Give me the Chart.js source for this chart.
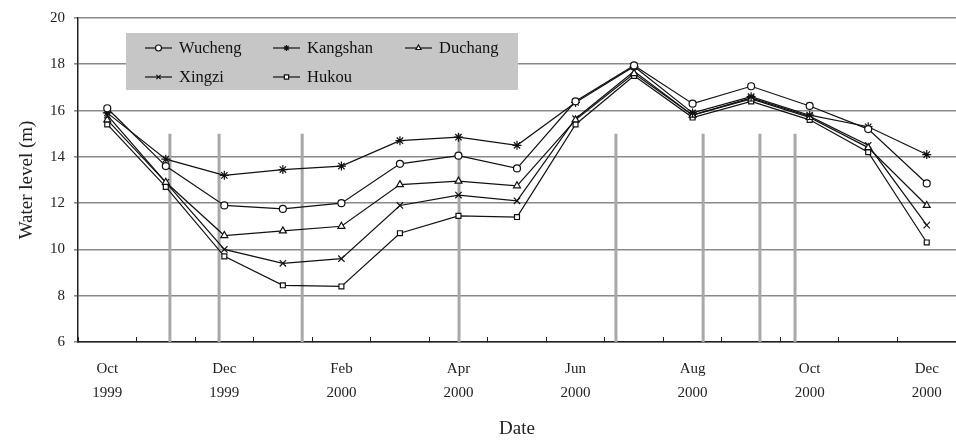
<!DOCTYPE html>
<html><head><meta charset="utf-8">
<script src="https://cdn.jsdelivr.net/npm/chart.js@4"></script>
<style>html,body{margin:0;padding:0;background:#fff}#wrap{width:956px;height:442px;position:relative}</style>
</head><body>
<div id="wrap"><canvas id="c"></canvas></div>
<script>
const months = [['Oct','1999'],['Nov','1999'],['Dec','1999'],['Jan','2000'],['Feb','2000'],['Mar','2000'],['Apr','2000'],['May','2000'],['Jun','2000'],['Jul','2000'],['Aug','2000'],['Sep','2000'],['Oct','2000'],['Nov','2000'],['Dec','2000']];
const wucheng  = [16.1,13.6,11.9,11.75,12.0,13.7,14.05,13.5,16.4,17.95,16.3,17.05,16.2,15.2,12.85];
const kangshan = [15.9,13.9,13.2,13.45,13.6,14.7,14.85,14.5,16.35,17.9,15.9,16.6,15.8,15.3,14.1];
const duchang  = [15.6,12.9,10.6,10.8,11.0,12.8,12.95,12.75,15.6,17.6,15.8,16.5,15.7,14.4,11.9];
const xingzi   = [15.8,12.9,10.0,9.4,9.6,11.9,12.35,12.1,15.65,17.7,15.8,16.55,15.75,14.5,11.05];
const hukou    = [15.4,12.7,9.7,8.45,8.4,10.7,11.45,11.4,15.4,17.5,15.7,16.4,15.6,14.2,10.3];
const yRange = [6, 20];
const yStep = 2;
// vertical reference bars: position in month index, and value span
const barPositions = [1.07,1.91,3.33,6.01,8.69,10.18,11.15,11.75];
const barSpan = [6, 15];

const FONT = "'Liberation Serif','DejaVu Serif',serif";

function series(label, data, style, radius){
  return {label, data, inLegend:true, borderColor:'#111', borderWidth:1.2,
    pointStyle:style, pointRadius:radius, pointBackgroundColor: style==='star'?'#111':'#fff',
    pointBorderColor:'#111', pointBorderWidth:1.2, tension:0, order:0, xAxisID:'x', yAxisID:'y'};
}
const barData = barPositions.flatMap(p => [{x:p,y:barSpan[0]},{x:p,y:barSpan[1]},{x:p,y:null}]);

const legendPlugin = {
  id:'boxLegend',
  afterDraw(chart){
    const ctx = chart.ctx;
    ctx.save();
    ctx.fillStyle = '#c6c6c6';
    ctx.fillRect(126,33,392,57);
    const slots = [[145,48],[273,48],[405,48],[145,77],[273,77]];
    const items = chart.data.datasets.filter(d=>d.inLegend);
    items.forEach((d,i)=>{
      const [x,y] = slots[i];
      ctx.strokeStyle='#111'; ctx.lineWidth=1.2;
      ctx.beginPath(); ctx.moveTo(x,y); ctx.lineTo(x+27,y); ctx.stroke();
      ctx.fillStyle = d.pointBackgroundColor; ctx.strokeStyle='#111'; ctx.lineWidth=1.2;
      if (Chart.helpers && Chart.helpers.drawPoint){
        Chart.helpers.drawPoint(ctx,{pointStyle:d.pointStyle,radius:3,rotation:0,borderWidth:1.2},x+13.5,y);
      }
      ctx.fillStyle='#111';
      ctx.font = "16.5px "+FONT;
      ctx.textBaseline='middle'; ctx.textAlign='left';
      ctx.fillText(d.label, x+34, y+1);
    });
    ctx.restore();
  }
};

new Chart(document.getElementById('c'), {
  type:'line',
  data:{
    labels: months,
    datasets:[
      series('Wucheng', wucheng, 'circle', 3.5),
      series('Kangshan', kangshan, 'star', 4.5),
      series('Duchang', duchang, 'triangle', 4),
      series('Xingzi', xingzi, 'crossRot', 4.5),
      series('Hukou', hukou, 'rect', 3.5),
      {label:'bars', data:barData, xAxisID:'x2', yAxisID:'y', borderColor:'#a8a8a8', borderWidth:3,
       pointRadius:0, spanGaps:false, order:10, parsing:{xAxisKey:'x',yAxisKey:'y'}}
    ]
  },
  options:{
    responsive:true, maintainAspectRatio:false, animation:false,
    layout:{autoPadding:false, padding:{top:13,right:0,bottom:0,left:0}},
    plugins:{legend:{display:false}, tooltip:{enabled:false}},
    scales:{
      x:{
        type:'category', offset:true,
        grid:{offset:true, drawOnChartArea:false, drawTicks:true, tickLength:-5, color:'#222', lineWidth:1},
        border:{display:true, color:'#222', width:1.5},
        ticks:{autoSkip:false, maxRotation:0, minRotation:0, padding:20, color:'#222',
          font:{family:FONT, size:15, lineHeight:1.6},
          callback:function(v,i){ return i%2===0 ? this.getLabelForValue(v) : ''; }},
        title:{display:true, text:'Date', color:'#222', font:{family:FONT, size:19}, padding:{top:0,bottom:2}},
        afterFit(s){ s.height = 100; s.paddingRight = 0; s.paddingLeft = 0; }
      },
      x2:{type:'linear', display:false, min:-0.5, max:months.length-0.5},
      y:{
        min:yRange[0], max:yRange[1],
        ticks:{stepSize:yStep, padding:9, color:'#222', font:{family:FONT, size:15}},
        grid:{color:'#8a8a8a', lineWidth:1.6, tickLength:4},
        border:{display:true, color:'#222', width:1.5},
        title:{display:true, text:'Water level (m)', color:'#222', font:{family:FONT, size:19}, padding:{top:16,bottom:0}},
        afterFit(s){ s.width = 78; }
      }
    }
  },
  plugins:[legendPlugin]
});
</script>
</body></html>
